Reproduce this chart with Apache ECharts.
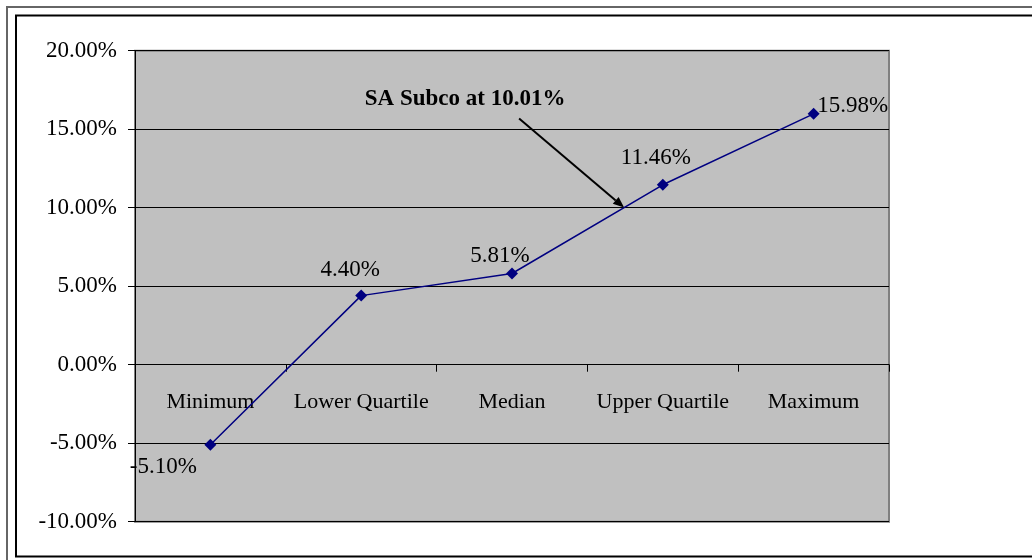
<!DOCTYPE html>
<html>
<head>
<meta charset="utf-8">
<script src="https://cdn.jsdelivr.net/npm/echarts@6/dist/echarts.min.js"></script>
<style>
html,body{margin:0;padding:0;background:#fff;}
#c{width:1032px;height:560px;}
</style>
</head>
<body>
<div id="c"></div>
<script>
// ---- data ----
const categories = ['Minimum', 'Lower Quartile', 'Median', 'Upper Quartile', 'Maximum'];
const values = [-5.10, 4.40, 5.81, 11.46, 15.98];
const annotationText = 'SA Subco at 10.01%';
const annotationValue = 10.01;
const yMin = -10, yMax = 20, yInterval = 5;

// ---- styling (label offsets in px) ----
const labelOffsets = [[-47, 22], [-11, -26], [-12, -18], [-7, -27], [39, -8]];
const FONT = 'Liberation Serif, Times New Roman, serif';

const chart = echarts.init(document.getElementById('c'), null, {renderer: 'canvas'});

const option = {
  animation: false,
  backgroundColor: '#fff',
  grid: {
    left: 135, top: 50.7, right: 143, bottom: 38.3,
    show: true, backgroundColor: '#C0C0C0', borderColor: '#808080', borderWidth: 2
  },
  xAxis: {
    type: 'category',
    data: categories,
    boundaryGap: true,
    axisLine: {onZero: true, lineStyle: {color: '#000', width: 1}},
    axisTick: {show: true, alignWithLabel: false, inside: false, length: 7, lineStyle: {color: '#000'}},
    axisLabel: {color: '#000', fontFamily: FONT, fontSize: 22, margin: 24, interval: 0},
    splitLine: {show: false}
  },
  yAxis: {
    type: 'value',
    min: yMin, max: yMax, interval: yInterval,
    axisLine: {show: true, lineStyle: {color: '#000', width: 1}},
    axisTick: {show: true, length: 7, lineStyle: {color: '#000'}},
    axisLabel: {
      color: '#000', fontFamily: FONT, fontSize: 23, margin: 18,
      formatter: v => v.toFixed(2) + '%'
    },
    splitLine: {show: true, lineStyle: {color: '#000', width: 1}}
  },
  series: [{
    type: 'line',
    data: values.map((v, i) => ({
      value: v,
      label: {offset: labelOffsets[i]}
    })),
    symbol: 'diamond',
    symbolSize: 12,
    lineStyle: {color: '#000080', width: 1.5},
    itemStyle: {color: '#000080'},
    label: {
      show: true, position: 'inside',
      color: '#000', fontFamily: FONT, fontSize: 23,
      formatter: p => p.value.toFixed(2) + '%'
    },
    z: 5
  }]
};
chart.setOption(option);

// place category labels just below the zero line (axis crosses at 0)
const zeroY = chart.convertToPixel({gridIndex: 0}, [0, 0])[1];
const bottomY = chart.convertToPixel({gridIndex: 0}, [0, yMin])[1];
chart.setOption({xAxis: {axisLabel: {margin: 24 - (bottomY - zeroY)}}});

// annotation arrow pointing at the value on the Median -> Upper Quartile segment
const iA = 2, iB = 3;
const pA = chart.convertToPixel({gridIndex: 0}, [iA, values[iA]]);
const pB = chart.convertToPixel({gridIndex: 0}, [iB, values[iB]]);
const t = (annotationValue - values[iA]) / (values[iB] - values[iA]);
const end = [pA[0] + t * (pB[0] - pA[0]), pA[1] + t * (pB[1] - pA[1])];
const start = [end[0] - 105, end[1] - 89];
const ang = Math.atan2(end[1] - start[1], end[0] - start[0]);
const hl = 11, hw = 4.5;
const base = [end[0] - hl * Math.cos(ang), end[1] - hl * Math.sin(ang)];
const head = [
  end,
  [base[0] + hw * Math.sin(ang), base[1] - hw * Math.cos(ang)],
  [base[0] - hw * Math.sin(ang), base[1] + hw * Math.cos(ang)]
];

chart.setOption({
  graphic: [
    {type: 'rect', shape: {x: 7, y: 7, width: 1060, height: 600}, style: {fill: 'none', stroke: '#666', lineWidth: 2}, silent: true, z: 0},
    {type: 'rect', shape: {x: 16, y: 15.5, width: 1050, height: 541}, style: {fill: 'none', stroke: '#000', lineWidth: 2}, silent: true, z: 0},
    {type: 'line', shape: {x1: start[0], y1: start[1], x2: base[0], y2: base[1]}, style: {stroke: '#000', lineWidth: 2}, z: 10},
    {type: 'polygon', shape: {points: head}, style: {fill: '#000'}, z: 10},
    {type: 'text', x: start[0] - 54, y: start[1] - 19,
     style: {text: annotationText, font: 'bold 23px ' + FONT, fill: '#000', align: 'center', verticalAlign: 'middle'}, z: 10}
  ]
});
</script>
</body>
</html>
